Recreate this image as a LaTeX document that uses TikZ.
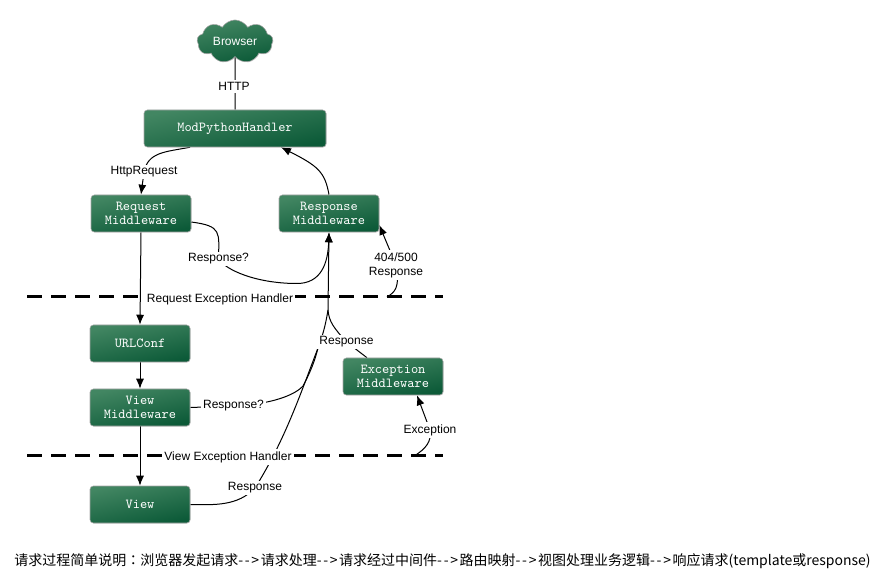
\documentclass[tikz,border=0pt]{standalone}
\usepackage{fontspec}
\setmainfont{Liberation Sans}
\newfontfamily\cjk{Noto Sans CJK SC}
\newfontfamily\cjktc{Noto Sans CJK TC}
\usetikzlibrary{positioning,calc,arrows.meta,shapes.symbols,shadows,backgrounds}
\definecolor{boxLight}{RGB}{66,134,98}
\definecolor{boxDark}{RGB}{12,90,56}
\newcommand{\flowmark}{-\kern1.25pt-\kern1.25pt>\kern1.25pt}
\tikzset{
    greenfill/.style={
        draw=black!35,
        line width=0.4pt,
        top color=boxLight,
        bottom color=boxDark,
        shading angle=12,
        text=white,
        drop shadow={shadow xshift=0.4pt, shadow yshift=-0.4pt, opacity=0.25}
    },
    stepnode/.style={
        greenfill,
        rectangle,
        rounded corners=2.5pt,
        font=\ttfamily\fontsize{10.3}{10.5}\selectfont,
        minimum width=75pt,
        minimum height=27.75pt,
        inner sep=0pt,
        align=center
    },
    cloudnode/.style={
        greenfill,
        cloud,
        cloud puffs=9,
        cloud puff arc=120,
        aspect=1.9,
        font=\fontsize{9}{11}\selectfont,
        minimum width=57pt,
        minimum height=30pt,
        inner sep=0pt
    },
    lbl/.style={
        fill=white,
        font=\fontsize{9}{10.5}\selectfont,
        inner sep=1.5pt,
        align=center
    },
    ptr/.style={
        -{Latex[length=7.5pt,width=6pt]},
        line width=0.75pt
    },
    wire/.style={
        line width=0.75pt
    },
    handler/.style={
        line width=2.25pt,
        dash pattern=on 11pt off 7pt
    }
}
\begin{document}
\begin{tikzpicture}[x=0.75pt,y=-0.75pt]
    \useasboundingbox (0,0) rectangle (878,573);

    % boxes
    \node[cloudnode] (browser) at (235,41.5) {Browser};
    \node[stepnode, minimum width=136.5pt] (handlerBox) at (235,128.5) {ModPythonHandler};
    \node[stepnode] (requestMw) at (141,213.5) {Request\\Middleware};
    \node[stepnode] (responseMw) at (329,213.5) {Response\\Middleware};
    \node[stepnode] (urlconf) at (140,343.5) {URLConf};
    \node[stepnode] (viewMw) at (140,407.5) {View\\Middleware};
    \node[stepnode] (viewBox) at (140,504.5) {View};
    \node[stepnode] (exceptionMw) at (393,376.5) {Exception\\Middleware};

    % labels
    \node[lbl] (httpLbl) at (234,86.5) {HTTP};
    \node[lbl] (httpReqLbl) at (144,172) {HttpRequest};
    \node[lbl] (respQ1Lbl) at (218.5,259) {Response?};
    \node[lbl] (codeLbl) at (396,265) {404/500\\Response};
    \node[lbl] (reqExcLbl) at (220,299) {Request Exception Handler};
    \node[lbl] (viewExcLbl) at (228,457) {View Exception Handler};
    \node[lbl] (respLbl) at (346.5,342) {Response};
    \node[lbl] (respQ2Lbl) at (233.5,406) {Response?};
    \node[lbl] (excLbl) at (430,430) {Exception};
    \node[lbl] (viewRespLbl) at (255,488) {Response};

    % points where lines meet
    \coordinate (reqLeft) at (27,297);
    \coordinate (reqRight) at (443,297);
    \coordinate (viewLeft) at (27,455.5);
    \coordinate (viewRight) at (443,455.5);
    \coordinate (reqTap) at (387,297);
    \coordinate (viewTap) at (415,455.5);
    \coordinate (merge) at (328,310);
    \coordinate (viewMerge) at (318,348);
    \coordinate (q2Join) at (303,386);

    \begin{pgfonlayer}{background}
        % exception handler lines
        \draw[handler] (reqLeft) -- (reqRight);
        \draw[handler] (viewLeft) -- (viewRight);

        % way in
        \draw[wire] (browser) -- (handlerBox);
        \draw[ptr] ([xshift=-33.75pt]handlerBox.south) .. controls (165,152) and (148,152) .. (httpReqLbl.center) -- (requestMw.north);
        \draw[ptr] (requestMw.south) -- (urlconf.north);
        \draw[ptr] (urlconf.south) -- (viewMw.north);
        \draw[ptr] (viewMw.south) -- (viewBox.north);

        % way out
        \draw[ptr] (responseMw.north) .. controls (325,172) and (318,166) .. ([xshift=34.5pt]handlerBox.south);
        \draw[ptr] ([yshift=-6.4pt]requestMw.east) .. controls (222,226) and (219,232) .. (respQ1Lbl.center)
            .. controls (226,270) and (255,283) .. (295,283.5)
            .. controls (322,284.5) and (328,262) .. (responseMw.south);
        \draw[ptr] ([xshift=-19.5pt]exceptionMw.north) -- (respLbl.center)
            .. controls (334,328) and (329,322) .. (merge) -- (responseMw.south);
        \draw[wire] (viewBox.east) .. controls (215,505) and (238,506) .. (viewRespLbl.center)
            .. controls (285,440) and (300,395) .. (viewMerge)
            .. controls (324,332) and (326,322) .. (merge);
        \draw[wire] (viewMw.east) -- (respQ2Lbl.center)
            .. controls (262,405) and (292,398) .. (q2Join)
            .. controls (311,371) and (315,360) .. (viewMerge);

        % handlers to the boxes
        \draw[ptr] (reqTap) .. controls (395,292) and (400,288) .. (codeLbl.center) -- ([yshift=-8.6pt]responseMw.east);
        \draw[ptr] (viewTap) .. controls (425,449) and (432,442) .. (excLbl.center) -- ([xshift=18pt]exceptionMw.south);
    \end{pgfonlayer}

    % caption
    \node[anchor=west, inner sep=0pt, font=\cjk\fontsize{10.5}{12}\selectfont] (caption) at (14,561)
        {请求过程简单说明{\cjktc ：}浏览器发起请求\flowmark 请求处理\flowmark 请求经过中间件\flowmark 路由映射\flowmark 视图处理业务逻辑\flowmark 响应请求(template或response)};
\end{tikzpicture}
\end{document}
